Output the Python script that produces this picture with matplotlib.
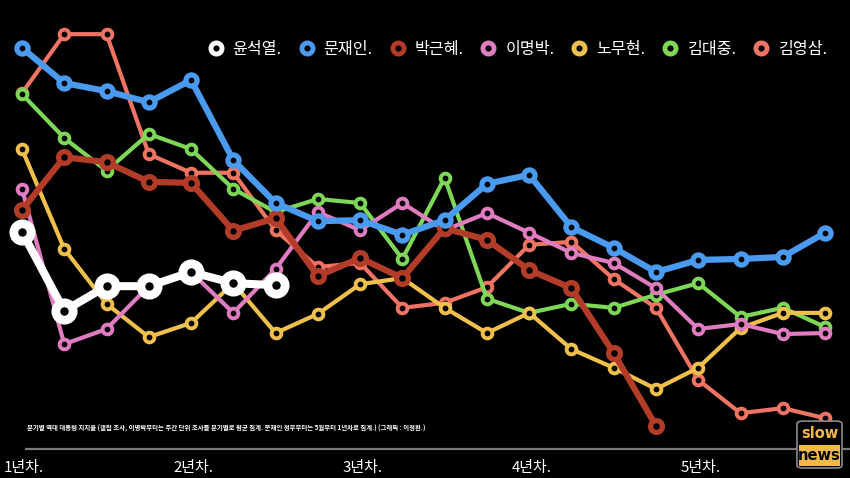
import matplotlib.pyplot as plt
from matplotlib.lines import Line2D
from matplotlib.patches import FancyBboxPatch, Rectangle

plt.rcParams['font.family'] = ['Noto Sans CJK KR', 'DejaVu Sans']

# quarterly approval (Gallup), quarters counted from start of term
names = ["윤석열.", "문재인.", "박근혜.", "이명박.", "노무현.", "김대중.", "김영삼."]
yoon = [43.5, 27.8, 32.7, 32.7, 35.5, 33.3, 32.9]
moon = [80.0, 73.0, 71.4, 69.2, 73.6, 57.7, 49.2, 45.6, 45.8, 42.9,
        45.8, 53.0, 54.8, 44.4, 40.3, 35.5, 37.9, 38.1, 38.5, 43.3]
park = [47.8, 58.3, 57.3, 53.4, 53.2, 43.7, 46.2, 34.7, 38.3, 34.3,
        44.2, 41.9, 35.9, 32.3, 19.4, 5.0]
mb = [52.0, 21.2, 24.2, 32.7, 35.5, 27.4, 36.1, 47.4, 43.8, 49.2,
      43.8, 47.2, 43.3, 39.3, 37.3, 32.3, 24.2, 25.2, 23.2, 23.4]
roh = [59.9, 40.1, 29.2, 22.6, 25.4, 33.3, 23.4, 27.2, 33.1, 34.3,
       28.4, 23.4, 27.4, 20.2, 16.5, 12.3, 16.5, 24.4, 27.4, 27.4]
dj = [70.8, 62.1, 55.6, 62.9, 59.9, 52.0, 47.4, 50.0, 49.2, 38.1,
      54.2, 30.2, 27.4, 29.2, 28.4, 31.0, 33.3, 26.6, 28.4, 24.6]
ys = [71.0, 82.7, 82.7, 58.9, 55.2, 55.2, 43.8, 36.5, 37.3, 28.4,
      29.4, 32.5, 40.9, 41.5, 34.1, 28.4, 14.1, 7.5, 8.5, 6.5]
year_labels = ["1년차.", "2년차.", "3년차.", "4년차.", "5년차."]
note = "분기별 역대 대통령 지지율 (갤럽 조사, 이명박부터는 주간 단위 조사를 분기별로 평균 집계. 문재인 정부부터는 5월부터 1년차로 집계.) (그래픽 : 이정환.)"

series = [yoon, moon, park, mb, roh, dj, ys]
colors = ['#ffffff', '#4a9af0', '#b23c28', '#e07cc0', '#f0c04c', '#7ed757', '#ef7463']
# line width, marker size, marker edge width
styles = [(5.8, 12.5, 6.3), (4.5, 8.0, 3.8), (4.5, 8.5, 3.8),
          (3.0, 7.0, 2.8), (3.0, 7.0, 2.8), (3.0, 7.0, 2.8), (3.0, 7.0, 2.8)]

fig = plt.figure(figsize=(8.5, 4.78), dpi=100)
fig.patch.set_facecolor('black')
ax = fig.add_axes([0, 0, 1, 1])
ax.set_facecolor('black')
ax.set_xlim(-0.52, 19.59)
ax.set_ylim(-5.36, 89.48)
ax.axis('off')

# draw oldest first so the newest sits on top
for i in reversed(range(len(series))):
    vals = series[i]
    lw, ms, mew = styles[i]
    ax.plot(range(len(vals)), vals, color=colors[i], lw=lw, marker='o', ms=ms,
            mfc='black', mec=colors[i], mew=mew, solid_joinstyle='round',
            zorder=10 - i)

ax.hlines(0.4, 0.07, 19.6, color='#7a7a7a', lw=1.6)
for k in range(len(year_labels)):
    ax.text(k * 4 + 0.05, -3.3, year_labels[k], color='white', fontsize=10.8,
            ha='center', va='center')

ax.text(0.12, 4.5, note, color='white', fontsize=4.6, fontweight='bold',
        ha='left', va='center')

handles = [Line2D([], [], ls='none', marker='o', ms=8, mfc='black',
                  mec=colors[i], mew=3.5) for i in range(len(names))]
leg = ax.legend(handles, names, ncol=7, loc='upper right',
                bbox_to_anchor=(0.99, 0.945), frameon=False, fontsize=11.6,
                handlelength=1.0, handletextpad=0.55, columnspacing=1.05)
for t in leg.get_texts():
    t.set_color('white')

# slow news badge
bx, by, bw, bh = 0.9376, 0.021, 0.053, 0.098
fig.patches.append(FancyBboxPatch((bx, by), bw, bh, boxstyle='round,pad=0,rounding_size=0.006',
                                  transform=fig.transFigure, fc='black', ec='#8a8a8a', lw=1.2))
fig.patches.append(Rectangle((bx + 0.002, by + 0.004), bw - 0.004, bh / 2 - 0.006,
                             transform=fig.transFigure, fc='#f2b84b', ec='none'))
fig.text(bx + bw / 2, by + bh * 0.74, "slow", color='#f2b84b', fontsize=10.5,
         fontweight='bold', ha='center', va='center', family='DejaVu Sans')
fig.text(bx + bw / 2, by + bh * 0.26, "news", color='black', fontsize=10.5,
         fontweight='bold', ha='center', va='center', family='DejaVu Sans')

fig.savefig('out.png', dpi=100, facecolor='black')
